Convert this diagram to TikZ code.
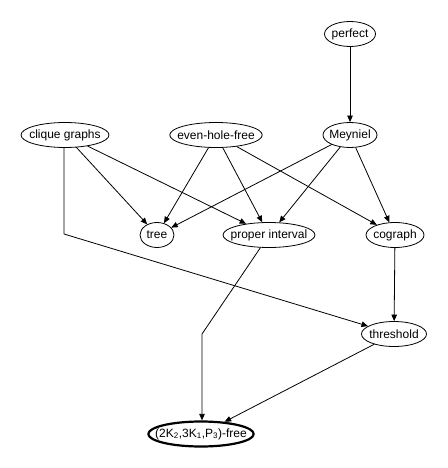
\documentclass[tikz,border=0pt]{standalone}
\usepackage{fontspec}
\setmainfont{Liberation Sans}
\usetikzlibrary{shapes.geometric,arrows.meta}

\begin{document}
\begin{tikzpicture}[x=1pt,y=-1pt,>={Triangle[length=6.5pt,width=5.5pt]}, font=\fontsize{12}{14}\selectfont, line join=round, line cap=round,
	cls/.style={draw, ellipse, inner ysep=0pt, inner xsep=-6pt, minimum height=25pt, line width=0.8pt},
	edge/.style={->, line width=0.8pt}]
	\useasboundingbox (0,0) rectangle (447,468);
	\node[cls, minimum width=51pt] (perfect) at (350,34) {perfect};
	\node[cls, minimum width=54pt] (meyniel) at (350,135) {Meyniel};
	\node[cls, minimum width=88pt] (clique) at (65,135) {clique graphs};
	\node[cls, minimum width=92pt] (evenhole) at (216,135) {even-hole-free};
	\node[cls, minimum width=34pt] (tree) at (157,235) {tree};
	\node[cls, minimum width=92pt] (proper) at (269,235) {proper interval};
	\node[cls, minimum width=58pt] (cograph) at (395,235) {cograph};
	\node[cls, minimum width=65pt] (threshold) at (394,334) {threshold};
	\node[cls, minimum width=104pt, inner xsep=-8.5pt, line width=2.2pt] (free) at (201,434) {(2K\textsubscript{2},3K\textsubscript{1},P\textsubscript{3})-free};
	\coordinate (cbend) at (64,234);
	\coordinate (pbend) at (202,334);
	\draw[edge] (perfect) -- (meyniel);
	\draw[edge] (clique) -- (tree);
	\draw[edge] (clique) -- (proper);
	\draw[edge] (clique.south -| cbend) -- (cbend) -- (threshold);
	\draw[edge] (evenhole) -- (tree);
	\draw[edge] (evenhole) -- (proper);
	\draw[edge] (evenhole) -- (cograph);
	\draw[edge] (meyniel) -- (tree);
	\draw[edge] (meyniel) -- (proper);
	\draw[edge] (meyniel) -- (cograph);
	\draw[edge] (cograph) -- (threshold);
	\draw[edge] (proper) -- (pbend) -- (free.north -| pbend);
	\draw[edge] (threshold) -- (free);
\end{tikzpicture}
\end{document}
